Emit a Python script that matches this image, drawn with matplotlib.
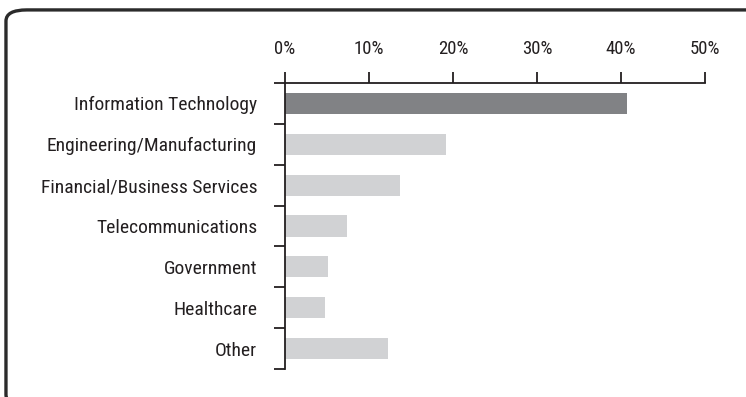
import matplotlib.pyplot as plt
from matplotlib.patches import FancyBboxPatch
from matplotlib.ticker import FixedLocator, PercentFormatter

plt.rcParams['font.family'] = ['Roboto Condensed', 'Liberation Sans Narrow',
                               'Archivo Narrow', 'Liberation Sans', 'DejaVu Sans']

categories = ['Information Technology', 'Engineering/Manufacturing',
              'Financial/Business Services', 'Telecommunications',
              'Government', 'Healthcare', 'Other']
shares = [40.7, 19.2, 13.7, 7.4, 5.1, 4.8, 12.3]
highlight = 'Information Technology'
x_ticks = [0, 10, 20, 30, 40, 50]

dark, light, ink = '#818285', '#d1d2d4', '#231f20'

fig = plt.figure(figsize=(7.46, 3.97), dpi=100)

# rounded frame, running off the right and bottom edges
frame = FancyBboxPatch((0.008, -0.022), 1.2, 0.997,
                       boxstyle='round,pad=0,rounding_size=0.028',
                       transform=fig.transFigure, fill=False,
                       edgecolor='#2b2b2b', linewidth=2.4, clip_on=False)
fig.patches.append(frame)

ax = fig.add_axes([285 / 746, 1 - 369 / 397, 420 / 746, 286 / 397])
pos = range(len(categories))
colors = [dark if c == highlight else light for c in categories]
ax.barh(pos, shares, height=0.52, color=colors)

ax.set_xlim(0, 50)
ax.set_ylim(len(categories) - 0.5, -0.5)
ax.xaxis.tick_top()
ax.xaxis.set_major_locator(FixedLocator(x_ticks))
ax.xaxis.set_major_formatter(PercentFormatter(decimals=0))

ax.set_yticks(list(pos))
ax.set_yticklabels(categories)
ax.yaxis.set_minor_locator(FixedLocator([i - 0.5 for i in range(len(categories) + 1)]))

for side in ['right', 'bottom']:
    ax.spines[side].set_visible(False)
for side in ['top', 'left']:
    ax.spines[side].set_color(ink)
    ax.spines[side].set_linewidth(1.3)

ax.tick_params(axis='x', which='major', direction='out', length=8, width=1.3,
               color=ink, pad=10, labelsize=13.5, labelcolor=ink)
ax.tick_params(axis='y', which='major', length=0, pad=20, labelsize=14, labelcolor=ink)
ax.tick_params(axis='y', which='minor', direction='out', length=8, width=1.3, color=ink)

fig.savefig('out.png', dpi=100)
